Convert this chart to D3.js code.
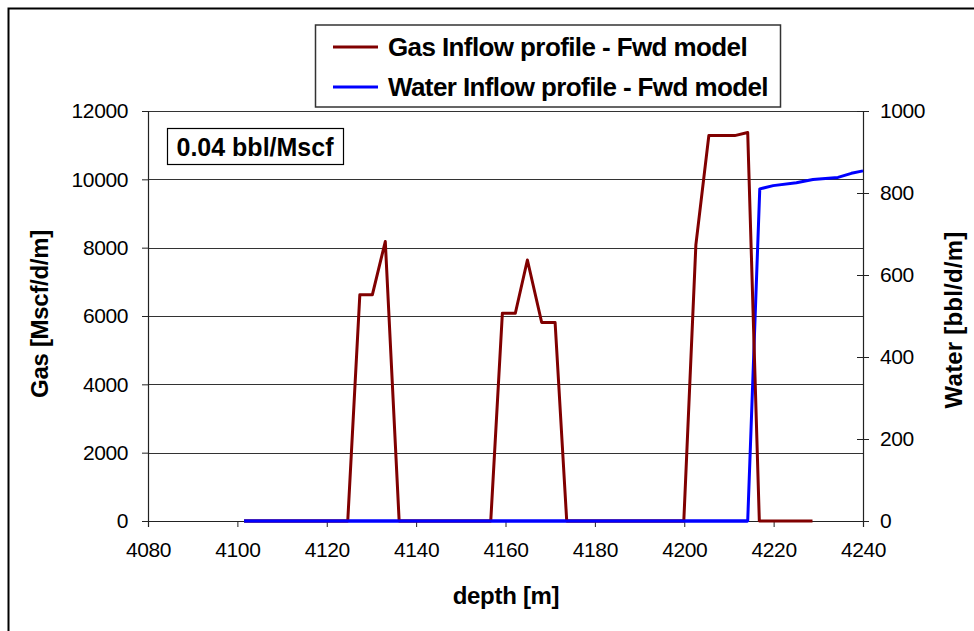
<!DOCTYPE html>
<html>
<head>
<meta charset="utf-8">
<script src="https://cdn.jsdelivr.net/npm/d3@7"></script>
<style>
  body { margin: 0; background: #fff; }
  text { font-family: "Liberation Sans", Arial, sans-serif; fill: #000; }
</style>
</head>
<body>
<div id="chart"></div>
<script>
// depth samples and rates
var gasDepth = [4101.5, 4124.7, 4127.4, 4130.2, 4133.1, 4136.2, 4156.7, 4159.3, 4162.2, 4164.9, 4168.1, 4171.1, 4173.7, 4199.9, 4202.6, 4205.5, 4211.3, 4214.2, 4216.8, 4228.7]
var gasRate = [0, 0, 6620, 6620, 8180, 0, 0, 6080, 6080, 7640, 5810, 5810, 0, 0, 8080, 11280, 11280, 11370, 0, 0]
var waterDepth = [4101.5, 4214.2, 4216.9, 4219.9, 4225.1, 4228.8, 4234.4, 4237.4, 4240]
var waterRate = [0, 0, 810, 818, 825, 833, 838, 848, 854]

var xTicks = [4080, 4100, 4120, 4140, 4160, 4180, 4200, 4220, 4240]
var gasTicks = [0, 2000, 4000, 6000, 8000, 10000, 12000]
var waterTicks = [0, 200, 400, 600, 800, 1000]
var legendLabels = ["Gas Inflow profile - Fwd model", "Water Inflow profile - Fwd model"]
var annotation = "0.04 bbl/Mscf"

var width = 974,
    height = 631
var margin = {left: 148, right: 111, top: 111, bottom: 110}
var plotW = width - margin.left - margin.right,
    plotH = height - margin.top - margin.bottom

var svg = d3.select("#chart")
  .append("svg")
    .attr("width", width)
    .attr("height", height)

// outer frame (only top/left visible, rest cropped)
svg.append("path")
  .attr("d", "M8.5,640 V8.5 H990")
  .attr("fill", "none")
  .attr("stroke", "#000")
  .attr("stroke-width", 2)

var g = svg.append("g")
  .attr("transform", "translate(" + margin.left + "," + margin.top + ")")

var x = d3.scaleLinear().domain([4080, 4240]).range([0, plotW])
var yGas = d3.scaleLinear().domain([0, 12000]).range([plotH, 0])
var yWater = d3.scaleLinear().domain([0, 1000]).range([plotH, 0])

// horizontal gridlines
g.selectAll(".grid")
  .data(gasTicks)
  .enter()
  .append("line")
    .attr("x1", 0)
    .attr("x2", plotW)
    .attr("y1", function(d){ return Math.round(yGas(d)) + 0.5 })
    .attr("y2", function(d){ return Math.round(yGas(d)) + 0.5 })
    .attr("stroke", "#333")
    .attr("stroke-width", 1)

// axes
var fmt = d3.format("d")
var xAxis = g.append("g")
  .attr("transform", "translate(0," + plotH + ")")
  .call(d3.axisBottom(x).tickValues(xTicks).tickFormat(fmt).tickSize(6).tickPadding(15))
var leftAxis = g.append("g")
  .call(d3.axisLeft(yGas).tickValues(gasTicks).tickFormat(fmt).tickSize(6).tickPadding(14))
var rightAxis = g.append("g")
  .attr("transform", "translate(" + plotW + ",0)")
  .call(d3.axisRight(yWater).tickValues(waterTicks).tickFormat(fmt).tickSize(6).tickPadding(11))
rightAxis.selectAll(".tick line").attr("x1", -6)

;[xAxis, leftAxis, rightAxis].forEach(function(a){
  a.select(".domain").attr("stroke", "#222").attr("stroke-width", 1.2)
  a.selectAll(".tick line").attr("stroke", "#222")
  a.selectAll(".tick text")
    .style("font-family", "Liberation Sans, Arial, sans-serif")
    .style("font-size", "21px")
    .style("letter-spacing", "-0.4px")
    .attr("fill", "#000")
})

// series lines
var gasLine = d3.line()
  .x(function(d, i){ return x(gasDepth[i]) })
  .y(function(d){ return yGas(d) })
var waterLine = d3.line()
  .x(function(d, i){ return x(waterDepth[i]) })
  .y(function(d){ return yWater(d) })

g.append("path")
  .datum(waterRate)
  .attr("d", waterLine)
  .attr("fill", "none")
  .attr("stroke", "#0000ff")
  .attr("stroke-width", 3)
  .attr("stroke-linejoin", "round")

g.append("path")
  .datum(gasRate)
  .attr("d", gasLine)
  .attr("fill", "none")
  .attr("stroke", "#800000")
  .attr("stroke-width", 3)
  .attr("stroke-linejoin", "round")

// redraw the zero part of the water line on top, it hides the gas base
g.append("path")
  .datum(waterRate.slice(0, 2))
  .attr("d", waterLine)
  .attr("fill", "none")
  .attr("stroke", "#0000ff")
  .attr("stroke-width", 3)

// axis titles
function boldText(sel, size, ls) {
  return sel.style("font-size", size + "px")
    .style("font-weight", "bold")
    .style("letter-spacing", ls + "px")
}
boldText(svg.append("text"), 24, -0.3)
  .attr("transform", "translate(48,314) rotate(-90)")
  .attr("text-anchor", "middle")
  .text("Gas [Mscf/d/m]")
boldText(svg.append("text"), 24, 0.2)
  .attr("transform", "translate(962,320) rotate(-90)")
  .attr("text-anchor", "middle")
  .text("Water [bbl/d/m]")
boldText(svg.append("text"), 24, -0.3)
  .attr("x", 506)
  .attr("y", 604)
  .attr("text-anchor", "middle")
  .text("depth [m]")

// annotation box
svg.append("rect")
  .attr("x", 167.5).attr("y", 128.5)
  .attr("width", 176).attr("height", 36)
  .attr("fill", "#fff").attr("stroke", "#000").attr("stroke-width", 1.2)
boldText(svg.append("text"), 25, 0)
  .attr("x", 255).attr("y", 156)
  .attr("text-anchor", "middle")
  .text(annotation)

// legend
svg.append("rect")
  .attr("x", 315.5).attr("y", 25)
  .attr("width", 465).attr("height", 82)
  .attr("fill", "#fff").attr("stroke", "#333").attr("stroke-width", 1.5)
var legendColors = ["#800000", "#0000ff"]
var legendY = d3.scalePoint().domain(legendLabels).range([47, 87])
legendLabels.forEach(function(l, i){
  svg.append("line")
    .attr("x1", 333).attr("x2", 378)
    .attr("y1", legendY(l)).attr("y2", legendY(l))
    .attr("stroke", legendColors[i]).attr("stroke-width", 3)
  boldText(svg.append("text"), 26, -0.6)
    .attr("x", 388).attr("y", legendY(l) + 9)
    .text(l)
})
</script>
</body>
</html>
